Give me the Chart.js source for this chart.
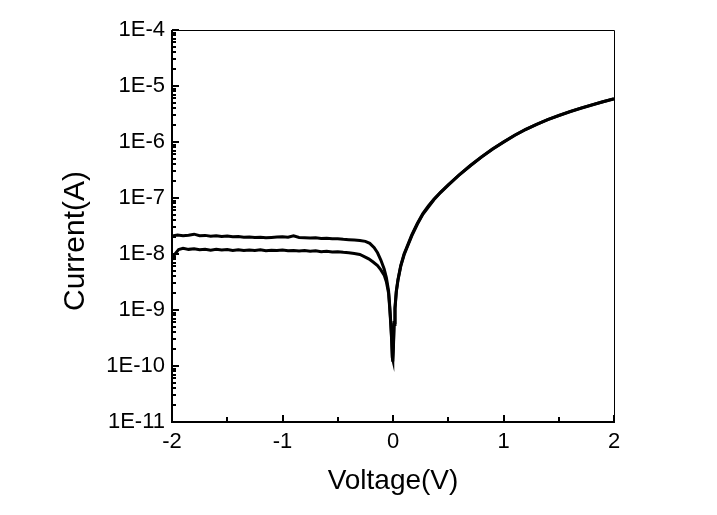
<!DOCTYPE html>
<html>
<head>
<meta charset="utf-8">
<script src="https://cdn.jsdelivr.net/npm/chart.js@4.4.1/dist/chart.umd.min.js"></script>
<style>
  body { margin: 0; background: #fff; }
  canvas { display: block; }
</style>
</head>
<body>
<canvas id="ivChart" width="717" height="515"></canvas>
<script>
// sweep A: upper branch in reverse bias
const voltsA = [
  -2.00, -1.95, -1.90, -1.85, -1.80, -1.75, -1.70, -1.65, -1.60, -1.55,
  -1.50, -1.45, -1.40, -1.35, -1.30, -1.25, -1.20, -1.15, -1.10, -1.05,
  -1.00, -0.95, -0.90, -0.85, -0.80, -0.75, -0.70, -0.65, -0.60, -0.55,
  -0.50, -0.45, -0.40, -0.35, -0.30, -0.25, -0.21, -0.17, -0.14, -0.11,
  -0.08, -0.06, -0.04, -0.03, -0.02, -0.012, -0.006, -0.002,
  0.004, 0.01, 0.018, 0.03, 0.045, 0.07, 0.10, 0.13, 0.17, 0.22,
  0.27, 0.32, 0.37, 0.43, 0.50, 0.60, 0.70, 0.80, 0.90, 1.00,
  1.10, 1.20, 1.30, 1.40, 1.50, 1.60, 1.70, 1.80, 1.90, 2.00
];
const currA = [
  2.10e-8, 2.18e-8, 2.12e-8, 2.16e-8, 2.26e-8, 2.12e-8, 2.15e-8, 2.08e-8, 2.12e-8, 2.06e-8,
  2.09e-8, 2.03e-8, 2.05e-8, 2.00e-8, 2.02e-8, 1.97e-8, 1.99e-8, 1.95e-8, 1.98e-8, 2.01e-8,
  2.03e-8, 2.00e-8, 2.12e-8, 1.98e-8, 1.96e-8, 1.93e-8, 1.95e-8, 1.90e-8, 1.91e-8, 1.87e-8,
  1.88e-8, 1.83e-8, 1.80e-8, 1.77e-8, 1.74e-8, 1.68e-8, 1.55e-8, 1.30e-8, 1.05e-8, 7.8e-9,
  5.4e-9, 3.8e-9, 2.2e-9, 1.2e-9, 6.0e-10, 3.0e-10, 1.5e-10, 1.2e-10,
  2.5e-10, 6.0e-10, 1.1e-9, 2.2e-9, 3.5e-9, 6.2e-9, 1.0e-8, 1.4e-8, 2.2e-8, 3.5e-8,
  5.25e-8, 7.2e-8, 9.5e-8, 1.27e-7, 1.72e-7, 2.6e-7, 3.8e-7, 5.4e-7, 7.5e-7, 1.0e-6,
  1.32e-6, 1.68e-6, 2.07e-6, 2.51e-6, 2.97e-6, 3.48e-6, 4.02e-6, 4.6e-6, 5.24e-6, 5.93e-6
];

// sweep B: lower branch in reverse bias
const voltsB = [
  -2.00, -1.97, -1.94, -1.90, -1.85, -1.80, -1.75, -1.70, -1.65, -1.60,
  -1.55, -1.50, -1.45, -1.40, -1.35, -1.30, -1.25, -1.20, -1.15, -1.10,
  -1.05, -1.00, -0.95, -0.90, -0.85, -0.80, -0.75, -0.70, -0.65, -0.60,
  -0.55, -0.50, -0.45, -0.40, -0.35, -0.30, -0.26, -0.22, -0.18, -0.14,
  -0.11, -0.08, -0.06, -0.04, -0.03, -0.02, -0.012, -0.006, -0.002,
  0.004, 0.01, 0.018, 0.03, 0.045, 0.07, 0.10, 0.13, 0.17, 0.22,
  0.27, 0.32, 0.37, 0.43, 0.50, 0.60, 0.70, 0.80, 0.90, 1.00,
  1.10, 1.20, 1.30, 1.40, 1.50, 1.60, 1.70, 1.80, 1.90, 2.00
];
const currB = [
  8.0e-9, 1.02e-8, 1.20e-8, 1.26e-8, 1.21e-8, 1.24e-8, 1.19e-8, 1.22e-8, 1.17e-8, 1.21e-8,
  1.18e-8, 1.20e-8, 1.16e-8, 1.19e-8, 1.15e-8, 1.18e-8, 1.16e-8, 1.19e-8, 1.14e-8, 1.17e-8,
  1.15e-8, 1.18e-8, 1.14e-8, 1.16e-8, 1.13e-8, 1.15e-8, 1.12e-8, 1.14e-8, 1.10e-8, 1.12e-8,
  1.09e-8, 1.10e-8, 1.07e-8, 1.05e-8, 1.02e-8, 9.8e-9, 9.0e-9, 8.2e-9, 7.2e-9, 6.2e-9,
  5.2e-9, 4.2e-9, 3.2e-9, 2.0e-9, 1.1e-9, 5.5e-10, 2.8e-10, 1.4e-10, 1.3e-10,
  2.2e-10, 5.5e-10, 1.05e-9, 2.1e-9, 3.4e-9, 6.0e-9, 9.6e-9, 1.35e-8, 2.1e-8, 3.4e-8,
  5.1e-8, 6.9e-8, 9.3e-8, 1.25e-7, 1.70e-7, 2.58e-7, 3.77e-7, 5.37e-7, 7.45e-7, 9.95e-7,
  1.31e-6, 1.67e-6, 2.06e-6, 2.5e-6, 2.96e-6, 3.47e-6, 4.0e-6, 4.58e-6, 5.22e-6, 5.9e-6
];

const xTicks = [-2, -1, 0, 1, 2];
const xTickLabels = ["-2", "-1", "0", "1", "2"];
const yDecades = [1e-11, 1e-10, 1e-9, 1e-8, 1e-7, 1e-6, 1e-5, 1e-4];
const yTickLabels = ["1E-11", "1E-10", "1E-9", "1E-8", "1E-7", "1E-6", "1E-5", "1E-4"];

const FONT = "'Liberation Sans', Arial, sans-serif";

const toPoints = (xs, ys) => xs.map((x, i) => ({ x: x, y: ys[i] }));

// frame + inward ticks like origin plots
const framePlugin = {
  id: "frame",
  afterDraw(chart) {
    const { ctx, chartArea: a, scales } = chart;
    const xs = scales.x, ys = scales.y;
    ctx.save();
    ctx.strokeStyle = "#000";

    // thin top / right
    ctx.lineWidth = 1;
    ctx.beginPath();
    ctx.moveTo(a.left, a.top + 0.5);
    ctx.lineTo(a.right + 0.5, a.top + 0.5);
    ctx.lineTo(a.right + 0.5, a.bottom);
    ctx.stroke();

    // thick left / bottom
    ctx.lineWidth = 2;
    ctx.beginPath();
    ctx.moveTo(a.left, a.top);
    ctx.lineTo(a.left, a.bottom);
    ctx.lineTo(a.right + 1, a.bottom);
    ctx.stroke();

    // x ticks, major + half step minor
    for (let v = -2; v <= 2.001; v += 0.5) {
      const px = Math.round(xs.getPixelForValue(v));
      const major = Math.abs(v - Math.round(v)) < 1e-6;
      ctx.beginPath();
      ctx.moveTo(px, a.bottom);
      ctx.lineTo(px, a.bottom - (major ? 7 : 5));
      ctx.stroke();
    }

    // y ticks, decades + 2..9
    yDecades.forEach((d, i) => {
      const py = Math.round(ys.getPixelForValue(d));
      ctx.beginPath();
      ctx.moveTo(a.left, py);
      ctx.lineTo(a.left + 7, py);
      ctx.stroke();
      if (i === yDecades.length - 1) return;
      for (let m = 2; m <= 9; m++) {
        const my = Math.round(ys.getPixelForValue(d * m));
        ctx.beginPath();
        ctx.moveTo(a.left, my);
        ctx.lineTo(a.left + 4, my);
        ctx.stroke();
      }
    });

    // y title
    ctx.fillStyle = "#000";
    ctx.font = "30px " + FONT;
    ctx.textAlign = "center";
    ctx.textBaseline = "middle";
    ctx.translate(76, 241);
    ctx.rotate(-Math.PI / 2);
    ctx.fillText("Current(A)", 0, 0);
    ctx.restore();
  }
};

new Chart(document.getElementById("ivChart"), {
  type: "line",
  data: {
    datasets: [
      {
        label: "sweep A",
        data: toPoints(voltsA, currA),
        borderColor: "#000",
        borderWidth: 3,
        pointRadius: 0,
        tension: 0
      },
      {
        label: "sweep B",
        data: toPoints(voltsB, currB),
        borderColor: "#000",
        borderWidth: 3,
        pointRadius: 0,
        tension: 0
      }
    ]
  },
  options: {
    responsive: false,
    animation: false,
    layout: { padding: { left: 0, top: 30, right: 103, bottom: 0 } },
    plugins: {
      legend: { display: false },
      tooltip: { enabled: false }
    },
    scales: {
      x: {
        type: "linear",
        min: -2,
        max: 2,
        grid: { display: false, drawTicks: false },
        border: { display: false },
        afterBuildTicks: (scale) => {
          scale.ticks = xTicks.map((v) => ({ value: v }));
        },
        afterFit: (scale) => { scale.height = 93; },
        ticks: {
          color: "#000",
          padding: 7,
          maxRotation: 0,
          font: { family: FONT, size: 22 },
          callback: (value, index) => xTickLabels[index]
        },
        title: {
          display: true,
          text: "Voltage(V)",
          color: "#000",
          font: { family: FONT, size: 28 },
          padding: { top: 0, bottom: 17 }
        }
      },
      y: {
        type: "logarithmic",
        min: 1e-11,
        max: 1e-4,
        grid: { display: false, drawTicks: false },
        border: { display: false },
        afterBuildTicks: (scale) => {
          scale.ticks = yDecades.map((v) => ({ value: v }));
        },
        afterFit: (scale) => { scale.width = 172; },
        ticks: {
          color: "#000",
          padding: 7,
          font: { family: FONT, size: 22 },
          callback: (value, index) => yTickLabels[index]
        }
      }
    }
  },
  plugins: [framePlugin]
});
</script>
</body>
</html>
